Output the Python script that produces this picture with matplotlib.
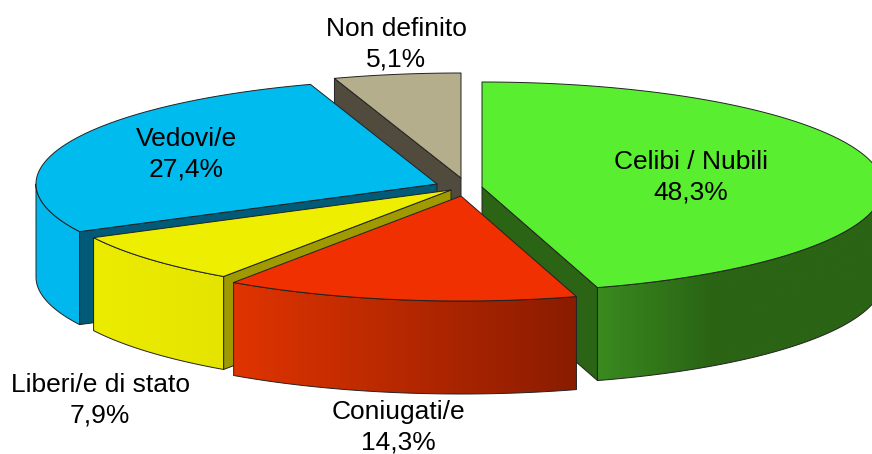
import numpy as np
import matplotlib
matplotlib.use("Agg")
import matplotlib.pyplot as plt
from matplotlib.colors import LinearSegmentedColormap
from matplotlib.patches import Polygon

plt.rcParams['font.family'] = ['Liberation Sans', 'DejaVu Sans']

categories = ["Celibi / Nubili", "Coniugati/e", "Liberi/e di stato", "Vedovi/e", "Non definito"]
values = [48.3, 14.3, 7.9, 27.4, 5.1]
value_labels = ["48,3%", "14,3%", "7,9%", "27,4%", "5,1%"]

top_colors = ["#5aee30", "#f03000", "#eeee00", "#00bbee", "#b5ae8c"]
cut_colors = ["#2a6414", "#8a1c00", "#9e9a00", "#005a78", "#504b3c"]
wall_stops = [
    [(0, "#3a8a20"), (0.4, "#2a6414"), (1, "#2a6414")],
    [(0, "#e03400"), (1, "#8a1c00")],
    [(0, "#ecec00"), (1, "#e4e400")],
    [(0, "#00b8ee"), (1, "#00b8ee")],
    [(0, "#8a8570"), (1, "#8a8570")],
]
apexes = [(482, 187), (461, 196), (451, 190), (437, 184), (461, 178)]
label_pos = [(691, 176), (398, 425.5), (100, 399), (186, 153), (396, 43)]
draw_order = [4, 3, 0, 2, 1]

RX, RY, DEPTH = 401.0, 105.0, 93.0


def warp(theta):
    r = np.radians(theta)
    extra = np.sin(2 * r) if theta > 180 else 0.0
    return theta - 2.8 * (1 - np.cos(r)) + 0.75 * extra


def rim(ax0, ay0, t):
    r = np.radians(t)
    return np.column_stack((ax0 + RX * np.sin(r), ay0 - RY * np.cos(r)))


fig = plt.figure(figsize=(8.72, 4.54), dpi=100)
ax = fig.add_axes([0, 0, 1, 1])
ax.set_axis_off()

edges = np.concatenate(([0], np.cumsum(values))) / np.sum(values) * 360
EDGE = dict(edgecolor="#222222", linewidth=0.7, joinstyle="round")

for z, i in enumerate(draw_order):
    t0, t1 = warp(edges[i]), warp(edges[i + 1])
    ax0, ay0 = apexes[i]
    ts = np.linspace(t0, t1, 240)
    arc = rim(ax0, ay0, ts)
    apex = np.array([[ax0, ay0]])
    down = np.array([0, DEPTH])
    mid = arc[len(arc) // 2] - apex[0]
    zb = 10 + z * 10
    # straight cut faces, only those turned towards the viewer
    for end in (arc[0], arc[-1]):
        d = end - apex[0]
        n = np.array([-d[1], d[0]])
        if n @ mid > 0:
            n = -n
        if n[1] > 1e-6:
            quad = np.vstack((apex, [end], [end + down], apex + down))
            ax.add_patch(Polygon(quad, closed=True, facecolor=cut_colors[i], zorder=zb, **EDGE))
    # curved outer wall (front-facing part only)
    lo, hi = max(t0, 90), min(t1, 270)
    if hi > lo:
        wts = np.linspace(lo, hi, 200)
        warc = rim(ax0, ay0, wts)
        wall = np.vstack((warc, warc[::-1] + down))
        x0, x1 = warc[:, 0].min(), warc[:, 0].max()
        cmap = LinearSegmentedColormap.from_list("w", wall_stops[i])
        g = np.linspace(0, 1, 256)[None, :]
        im = ax.imshow(g, cmap=cmap, extent=(x0, x1, wall[:, 1].max(), wall[:, 1].min()),
                       aspect="auto", zorder=zb + 1, interpolation="bilinear")
        patch = Polygon(wall, closed=True, facecolor="none", zorder=zb + 2, **EDGE)
        ax.add_patch(patch)
        im.set_clip_path(patch)
    # top face
    top = np.vstack((apex, arc))
    ax.add_patch(Polygon(top, closed=True, facecolor=top_colors[i], zorder=zb + 3, **EDGE))

for name, val, (x, y) in zip(categories, value_labels, label_pos):
    ax.text(x, y + 1.5, f"{name}\n{val}", ha="center", va="center", fontsize=19,
            color="#000000", linespacing=1.36, zorder=200)

ax.set_xlim(0, 872)
ax.set_ylim(454, 0)
fig.savefig("out.png", dpi=100, facecolor="white")
